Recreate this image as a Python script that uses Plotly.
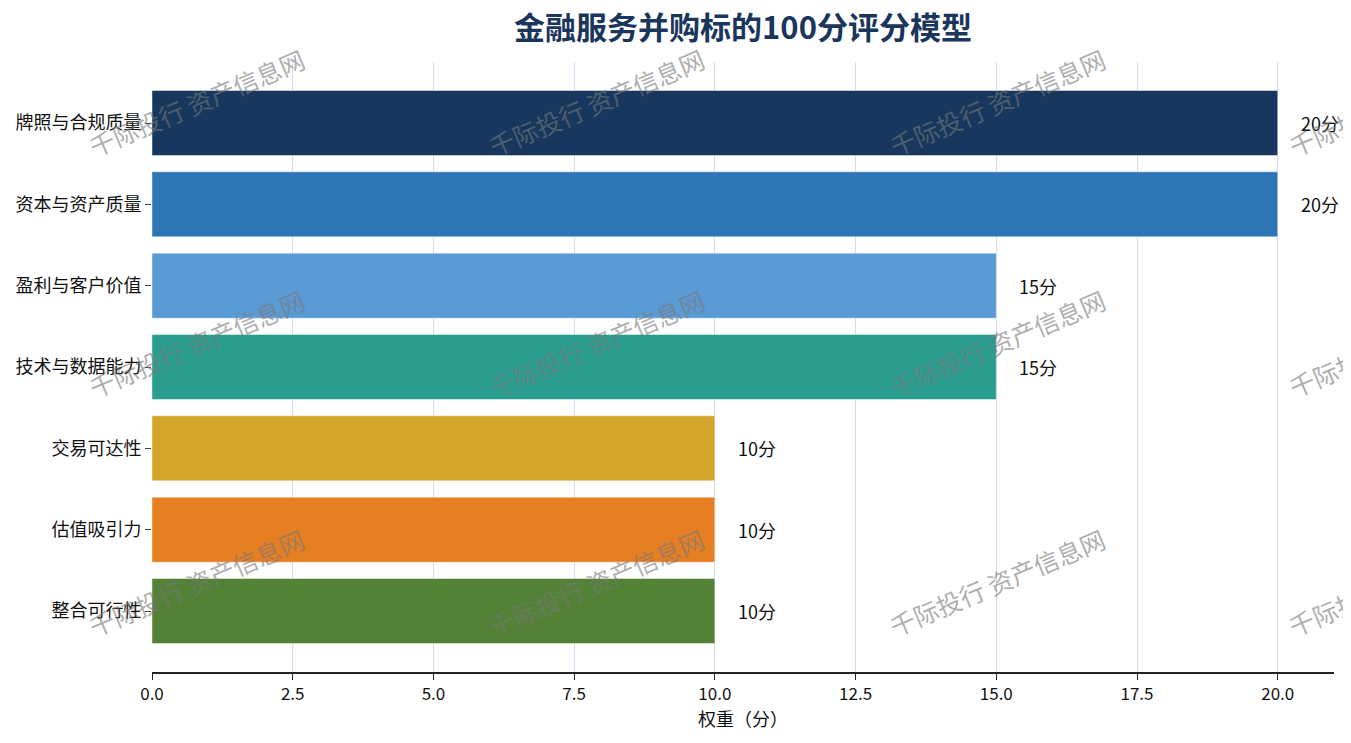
import plotly.graph_objects as go

# 评分维度与权重（自上而下）
categories = ["牌照与合规质量", "资本与资产质量", "盈利与客户价值", "技术与数据能力",
              "交易可达性", "估值吸引力", "整合可行性"]
weights = [20, 20, 15, 15, 10, 10, 10]
bar_colors = ["#17375E", "#2E75B6", "#5B9BD5", "#2A9D8F", "#D4A52B", "#E67E22", "#538135"]
x_ticks = [0, 2.5, 5, 7.5, 10, 12.5, 15, 17.5, 20]

FONT = "Noto Sans CJK SC"
watermark = "千际投行 资产信息网"

fig = go.Figure()
fig.add_trace(go.Bar(
    x=weights,
    y=categories,
    orientation="h",
    marker=dict(color=bar_colors, line=dict(color="rgba(255,255,255,0.45)", width=1)),
    hoverinfo="x+y",
))

# 数值标签
annotations = []
for cat, w in zip(categories, weights):
    annotations.append(dict(
        x=w, y=cat, xref="x", yref="y",
        text=f"{w}分", showarrow=False,
        xanchor="left", xshift=21,
        font=dict(family=FONT, size=18, color="#111111"),
    ))

# 水印（平铺）
wm_cols = [0.038, 0.376, 0.715, 1.053]
wm_rows = [0.935, 0.54, 0.147]
for yy in wm_rows:
    for xx in wm_cols:
        annotations.append(dict(
            x=xx, y=yy, xref="paper", yref="paper",
            xanchor="center", yanchor="middle",
            text=watermark, showarrow=False, textangle=-23,
            font=dict(family=FONT, size=25, color="rgba(120,120,120,0.6)"),
        ))

fig.update_layout(
    width=1343, height=735,
    margin=dict(l=144, r=17, t=54, b=71),
    plot_bgcolor="white", paper_bgcolor="white",
    bargap=0.2,
    showlegend=False,
    font=dict(family=FONT, size=18, color="#111111"),
    title=dict(
        text="<b>金融服务并购标的100分评分模型</b>",
        x=0.5, xref="paper", xanchor="center",
        y=0.972, yanchor="middle",
        font=dict(family=FONT, size=31, color="#1B365D"),
    ),
    xaxis=dict(
        range=[0, 21],
        automargin=False,
        tickvals=x_ticks,
        ticktext=[f"{v:.1f}" for v in x_ticks],
        showgrid=True, gridcolor="#D3DCF2", gridwidth=1,
        zeroline=False,
        showline=True, linecolor="#222222", linewidth=1.5,
        ticks="outside", ticklen=6, tickcolor="#222222",
        title=dict(text="权重（分）", font=dict(family=FONT, size=18), standoff=6),
        tickfont=dict(family=FONT, size=17),
    ),
    yaxis=dict(
        autorange=False,
        automargin=False,
        range=[6.75, -0.75],
        showgrid=False, zeroline=False, showline=False,
        ticks="outside", ticklen=6, tickcolor="#444444",
        tickfont=dict(family=FONT, size=18),
    ),
    annotations=annotations,
)

fig.write_html("out.html")
